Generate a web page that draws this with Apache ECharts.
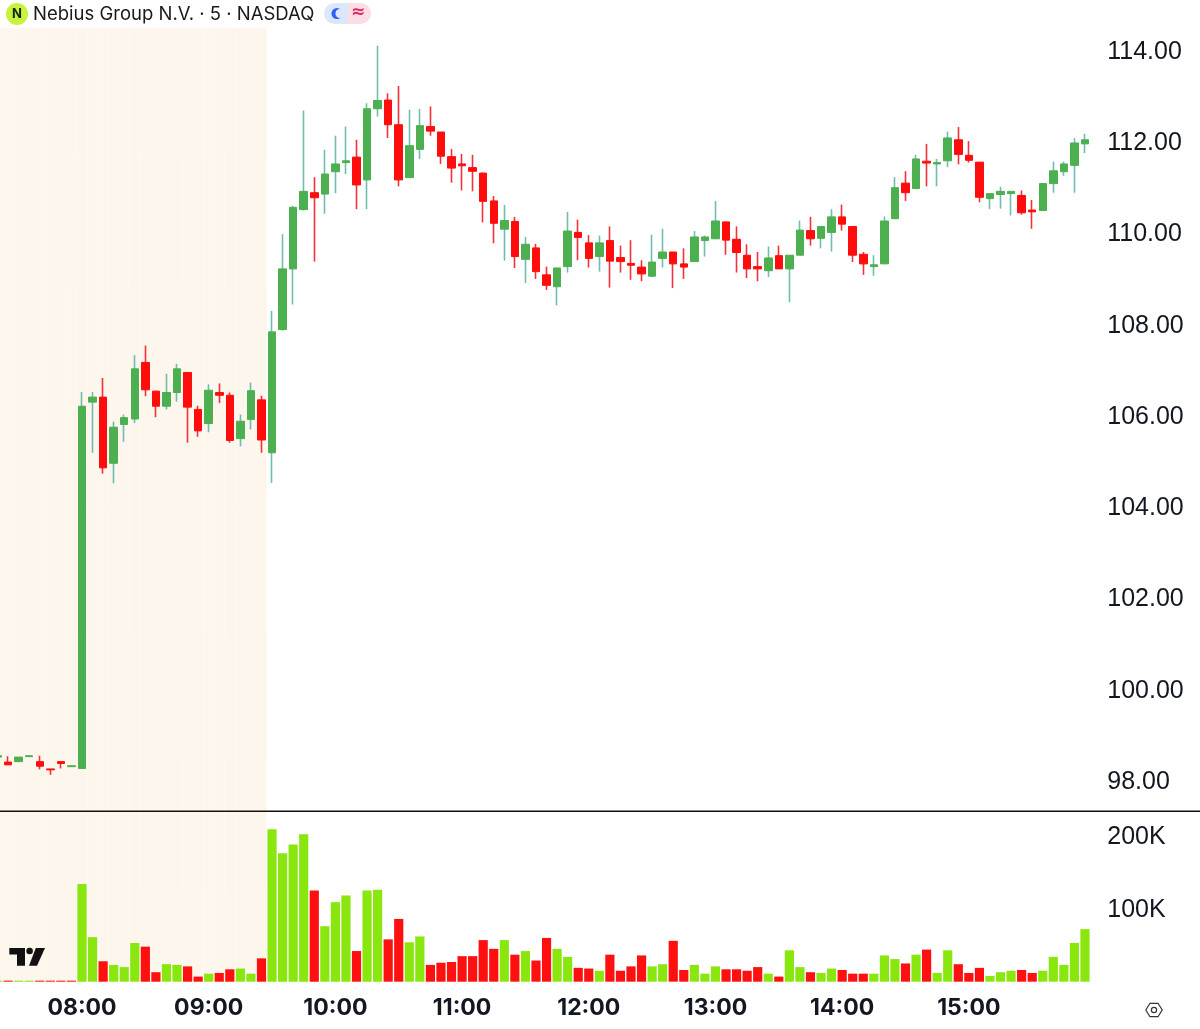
<!DOCTYPE html>
<html>
<head>
<meta charset="utf-8">
<style>html,body{margin:0;padding:0;background:#fff}#chart{width:1200px;height:1029px}</style>
<script src="https://cdn.jsdelivr.net/npm/echarts@6/dist/echarts.min.js"></script>
</head>
<body>
<div id="chart"></div>
<script>
var times = [
	'06:50','06:55','07:00','07:05','07:10','07:15','07:20','07:25',
	'08:00','08:05','08:10','08:15','08:20','08:25','08:30','08:35','08:40','08:45','08:50','08:55',
	'09:00','09:05','09:10','09:15','09:20','09:25','09:30','09:35','09:40','09:45','09:50','09:55',
	'10:00','10:05','10:10','10:15','10:20','10:25','10:30','10:35','10:40','10:45','10:50','10:55',
	'11:00','11:05','11:10','11:15','11:20','11:25','11:30','11:35','11:40','11:45','11:50','11:55',
	'12:00','12:05','12:10','12:15','12:20','12:25','12:30','12:35','12:40','12:45','12:50','12:55',
	'13:00','13:05','13:10','13:15','13:20','13:25','13:30','13:35','13:40','13:45','13:50','13:55',
	'14:00','14:05','14:10','14:15','14:20','14:25','14:30','14:35','14:40','14:45','14:50','14:55',
	'15:00','15:05','15:10','15:15','15:20','15:25','15:30','15:35','15:40','15:45','15:50','15:55'
];
var opens = [
	98.50,98.39,98.40,98.51,98.40,98.24,98.40,98.29,
	98.25,106.28,106.39,104.94,105.79,105.91,107.15,106.52,106.19,106.49,106.93,106.12,
	105.81,106.49,106.43,105.48,105.90,106.33,105.17,107.87,109.20,110.50,110.87,110.84,
	111.33,111.53,111.65,111.15,112.71,112.90,112.36,111.20,111.82,112.32,112.20,111.66,
	111.50,111.42,111.30,110.69,110.07,110.24,109.41,109.66,109.07,108.81,109.25,110.00,
	109.77,109.47,109.82,109.45,109.32,109.24,109.04,109.43,109.57,109.31,109.36,109.82,
	109.86,110.23,109.85,109.50,109.25,109.16,109.49,109.20,109.50,110.04,109.87,110.00,
	110.34,110.13,109.52,109.25,109.31,110.30,111.08,110.96,111.56,111.50,111.57,112.03,
	111.69,111.54,110.74,110.83,110.85,110.81,110.49,110.48,111.07,111.33,111.47,111.94
];
var closes = [
	98.53,98.33,98.50,98.53,98.30,98.22,98.36,98.31,
	106.19,106.39,104.84,105.73,105.94,107.01,106.55,106.19,106.49,107.01,106.17,105.65,
	106.54,106.43,105.44,105.86,106.53,105.45,107.82,109.20,110.55,110.90,110.76,111.28,
	111.50,111.57,111.04,112.71,112.89,112.36,111.15,111.90,112.34,112.22,111.67,111.41,
	111.46,111.34,110.68,110.20,110.26,109.47,109.74,109.14,108.84,109.22,110.03,109.89,
	109.43,109.77,109.37,109.36,109.28,109.09,109.35,109.57,109.31,109.24,109.90,109.90,
	110.25,109.83,109.56,109.20,109.20,109.44,109.20,109.50,110.05,109.86,110.13,110.34,
	110.18,109.50,109.31,109.29,110.25,110.98,110.87,111.61,111.52,111.53,112.07,111.71,
	111.58,110.77,110.85,110.90,110.90,110.43,110.45,111.07,111.35,111.50,111.96,112.03
];
var lows = [
	98.50,98.33,98.40,98.51,98.23,98.11,98.25,98.29,
	98.25,105.17,104.71,104.50,105.41,105.82,106.41,105.95,106.12,106.29,105.39,105.52,
	105.62,106.26,105.39,105.31,105.68,105.17,104.51,107.85,108.42,110.48,109.36,110.41,
	110.86,111.28,110.51,110.51,112.54,112.07,111.01,111.20,111.61,112.12,111.50,111.09,
	110.92,110.90,110.22,109.76,109.38,109.22,108.89,108.98,108.74,108.40,109.12,109.39,
	109.23,109.14,108.79,109.12,108.96,108.93,109.02,109.23,108.78,108.98,109.36,109.47,
	109.86,109.51,109.12,109.00,108.93,109.02,109.20,108.47,109.50,109.71,109.65,109.58,
	110.04,109.35,109.07,109.05,109.31,110.30,110.69,110.96,111.01,111.01,111.43,111.49,
	111.53,110.66,110.51,110.52,110.37,110.39,110.08,110.47,110.87,111.24,110.87,111.74
];
var highs = [
	98.53,98.52,98.50,98.53,98.53,98.24,98.40,98.31,
	106.50,106.50,106.81,105.85,106.01,107.31,107.52,106.53,106.90,107.12,106.94,106.20,
	106.67,106.69,106.49,106.01,106.71,106.42,108.28,109.96,110.58,112.67,111.21,111.81,
	112.12,112.32,112.03,112.83,114.09,113.05,113.21,112.69,112.71,112.76,112.20,111.83,
	111.72,111.70,111.31,110.80,110.60,110.34,109.90,109.75,109.25,109.22,110.45,110.28,
	109.94,109.93,110.13,109.71,109.83,109.39,109.95,110.08,109.57,109.65,110.03,109.93,
	110.69,110.23,110.13,109.74,109.57,109.69,109.71,109.50,110.26,110.34,110.13,110.51,
	110.61,110.13,109.57,109.50,110.35,111.21,111.34,111.70,111.94,111.61,112.21,112.31,
	112.00,111.54,110.85,111.00,110.90,110.92,110.71,111.07,111.55,111.55,112.07,112.16
];
// volume in thousands
var volumes = [
	1.4,1.4,1.4,1.4,1.4,1.4,1.4,1.4,
	134,61,28,23,20,53,48,13,24,23,21,7,
	11,12,17,18,11,32,209,176,188,202,125,76,
	109,118,42,125,126,58,86,54,62,23,26,27,
	35,35,57,45,57,37,42,29,60,45,34,19,
	18,15,37,15,21,36,21,24,56,16,23,11,
	21,17,17,15,20,11,7,43,20,13,12,18,
	16,11,11,11,36,31,25,37,44,12,43,24,
	12,19,8,13,15,16,12,15,34,23,53,72
];
// 1 = green volume bar, 0 = red
var volumeSides = [
	1,0,1,1,0,0,0,0,
	1,1,0,1,1,1,0,0,1,1,0,0,
	1,0,0,1,1,0,1,1,1,1,0,1,
	1,1,0,1,1,0,0,1,1,0,0,0,
	0,0,0,0,1,0,1,0,0,1,1,0,
	0,1,0,0,0,0,1,1,0,0,1,1,
	1,0,0,0,0,1,0,1,1,0,1,1,
	0,0,0,1,1,1,0,1,0,1,1,0,
	0,0,1,1,1,0,0,1,1,1,1,1
];
var priceTicks = [98, 100, 102, 104, 106, 108, 110, 112, 114];
var volumeTicks = [100, 200];
var hourLabels = ['08:00', '09:00', '10:00', '11:00', '12:00', '13:00', '14:00', '15:00'];
var lastPreMarket = '09:25';

var green = '#4CAF50', red = '#FF0D0D', wickGreen = '#6FBDB0', wickRed = '#F2313A';
var volGreen = '#89E60F', volRed = '#FF1010', shade = '#FDF6EC';
var textFont = 'Inter, "Liberation Sans", sans-serif';
var priceFont = '"Liberation Sans", sans-serif';

var full = [], bodies = [], volData = [], sessionFlags = [];
var inPre = true;
for(var i = 0; i < times.length; i++) {
	full.push([opens[i], closes[i], lows[i], highs[i]]);
	// second layer has no wick, so the body colour stays apart from the wick colour
	bodies.push([opens[i], closes[i], Math.min(opens[i], closes[i]), Math.max(opens[i], closes[i])]);
	volData.push({
		value: volumes[i],
		itemStyle: { color: volumeSides[i] ? volGreen : volRed }
	});
	sessionFlags.push(inPre ? 1 : null);
	if(times[i] == lastPreMarket) inPre = false;
}

var plotLeft = -7.74, plotWidth = 1098;

var option = {
	animation: false,
	backgroundColor: '#fff',
	title: {
		text: 'Nebius Group N.V. · 5 · NASDAQ',
		left: 28, top: 0,
		textStyle: { fontFamily: textFont, fontSize: 18.5, fontWeight: 400, color: '#1a1a1a' }
	},
	grid: [
		{ left: plotLeft, width: plotWidth, top: 28, height: 782, outerBoundsMode: 'none' },
		{ left: plotLeft, width: plotWidth, top: 812, height: 169.7, outerBoundsMode: 'none' },
		{ left: plotLeft, width: plotWidth, top: 28, height: 953.7, outerBoundsMode: 'none' }
	],
	xAxis: [
		{ type: 'category', gridIndex: 0, data: times, show: false },
		{
			type: 'category', gridIndex: 1, data: times,
			axisLine: { show: false }, axisTick: { show: false },
			axisLabel: {
				margin: 15,
				interval: function(idx, val) { return hourLabels.indexOf(val) >= 0; },
				fontFamily: textFont, fontSize: 23, fontWeight: 700, color: '#131722',
				hideOverlap: false
			}
		},
		{ type: 'category', gridIndex: 2, data: times, show: false }
	],
	yAxis: [
		{
			type: 'value', gridIndex: 0, position: 'right', scale: true,
			min: 97.34, max: 114.48,
			axisLine: { show: false }, axisTick: { show: false }, splitLine: { show: false },
			axisLabel: {
				margin: 17, customValues: priceTicks,
				verticalAlign: 'top', lineHeight: 4, // nudges the text 2px below the tick
				fontFamily: priceFont, fontSize: 25, color: '#131722',
				formatter: function(v) { return v.toFixed(2); }
			}
		},
		{
			type: 'value', gridIndex: 1, position: 'right',
			min: 0, max: 232.5,
			axisLine: { show: false }, axisTick: { show: false }, splitLine: { show: false },
			axisLabel: {
				margin: 17, customValues: volumeTicks,
				verticalAlign: 'top', lineHeight: 2,
				fontFamily: priceFont, fontSize: 25, color: '#131722',
				formatter: function(v) { return v + 'K'; }
			}
		},
		{ type: 'value', gridIndex: 2, min: 0, max: 1, show: false }
	],
	series: [
		{
			name: 'session', type: 'bar', xAxisIndex: 2, yAxisIndex: 2,
			data: sessionFlags, barWidth: '100%', z: 0, silent: true,
			itemStyle: { color: shade, borderColor: shade, borderWidth: 0.6 }
		},
		{
			name: 'wicks', type: 'candlestick', xAxisIndex: 0, yAxisIndex: 0,
			data: full, barWidth: 1, z: 2,
			itemStyle: {
				color: wickGreen, color0: wickRed,
				borderColor: wickGreen, borderColor0: wickRed,
				borderWidth: 1.6
			}
		},
		{
			name: 'bodies', type: 'candlestick', xAxisIndex: 0, yAxisIndex: 0,
			data: bodies, barWidth: 8, z: 3,
			itemStyle: {
				color: green, color0: red,
				borderColor: green, borderColor0: red,
				borderWidth: 1
			}
		},
		{
			name: 'volume', type: 'bar', xAxisIndex: 1, yAxisIndex: 1,
			data: volData, barWidth: 9.2, z: 2
		}
	],
	graphic: [
		// separator between the panes
		{ type: 'rect', shape: { x: 0, y: 810.5, width: 1200, height: 1.5 }, style: { fill: '#111' }, z: 10 },
		// symbol badge
		{ type: 'circle', shape: { cx: 17, cy: 14, r: 11 }, style: { fill: '#C8F23C' }, z: 10 },
		{ type: 'text', style: { text: 'N', x: 17, y: 14, align: 'center', verticalAlign: 'middle', font: '700 13px ' + textFont, fill: '#13261a' }, z: 11 },
		// market status pill
		{ type: 'rect', shape: { x: 324, y: 3, width: 24, height: 21, r: [10.5, 0, 0, 10.5] }, style: { fill: '#DCE7FD' }, z: 10 },
		{ type: 'rect', shape: { x: 348, y: 3, width: 23, height: 21, r: [0, 10.5, 10.5, 0] }, style: { fill: '#FBDDE6' }, z: 10 },
		{ type: 'circle', shape: { cx: 337, cy: 13.5, r: 5.5 }, style: { fill: '#2962FF' }, z: 11 },
		{ type: 'circle', shape: { cx: 340, cy: 13.5, r: 4.6 }, style: { fill: '#DCE7FD' }, z: 12 },
		{ type: 'text', style: { text: '≈', x: 358, y: 13, align: 'center', verticalAlign: 'middle', font: '700 17px "DejaVu Sans"', fill: '#E0245E' }, z: 11 },
		// TV logo
		{ type: 'polygon', shape: { points: [[9.3, 948], [25, 948], [25, 965.7], [17, 965.7], [17, 954.6], [9.3, 954.6]] }, style: { fill: '#111' }, z: 10 },
		{ type: 'circle', shape: { cx: 29.6, cy: 951, r: 3.3 }, style: { fill: '#111' }, z: 10 },
		{ type: 'polygon', shape: { points: [[35.8, 948], [45, 948], [37, 965.7], [29, 965.7]] }, style: { fill: '#111' }, z: 10 },
		// settings hexagon
		{ type: 'polygon', shape: { points: [[1145.8, 1010], [1150, 1003.3], [1158, 1003.3], [1162.2, 1010], [1158, 1016.7], [1150, 1016.7]] }, style: { fill: 'none', stroke: '#333', lineWidth: 1.2 }, z: 10 },
		{ type: 'circle', shape: { cx: 1154, cy: 1010, r: 2.6 }, style: { fill: 'none', stroke: '#333', lineWidth: 1.2 }, z: 10 }
	]
};

var chart = echarts.init(document.getElementById('chart'));
chart.setOption(option);
</script>
</body>
</html>
